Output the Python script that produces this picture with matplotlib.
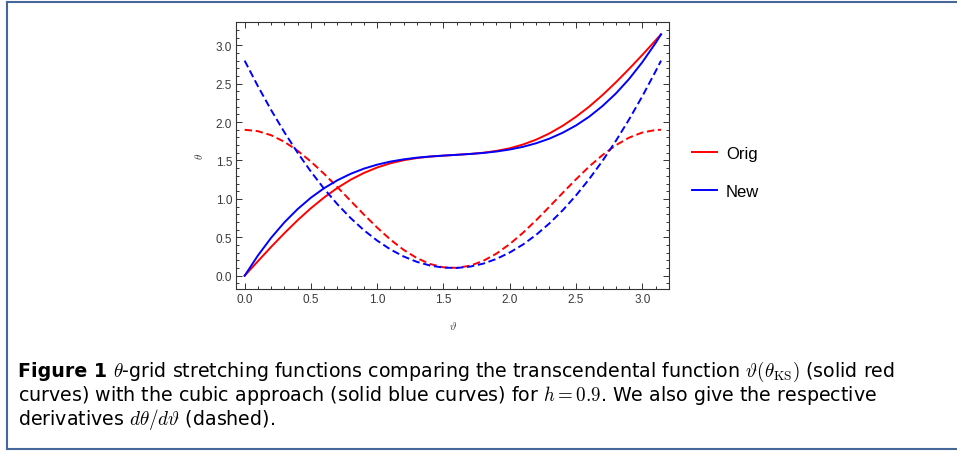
import matplotlib
matplotlib.use('Agg')
import matplotlib.pyplot as plt
from matplotlib.lines import Line2D
from matplotlib.ticker import MultipleLocator, FormatStrFormatter

# theta-grid stretching: original (transcendental) vs cubic map, h = 0.9
vartheta = [0.0, 0.1, 0.2, 0.3, 0.4, 0.5, 0.6, 0.7, 0.8, 0.9, 1.0,
            1.1, 1.2, 1.3, 1.4, 1.5, 1.6, 1.7, 1.8, 1.9, 2.0,
            2.1, 2.2, 2.3, 2.4, 2.5, 2.6, 2.7, 2.8, 2.9, 3.0,
            3.1, 3.1416]

theta_orig = [0.000, 0.189, 0.375, 0.554, 0.723, 0.879, 1.019, 1.143, 1.250, 1.338, 1.409,
              1.464, 1.504, 1.532, 1.551, 1.563, 1.574, 1.585, 1.601, 1.625, 1.659,
              1.708, 1.772, 1.853, 1.952, 2.069, 2.202, 2.352, 2.516, 2.691, 2.874,
              3.063, 3.142]

theta_new = [0.000, 0.263, 0.494, 0.695, 0.868, 1.016, 1.140, 1.243, 1.327, 1.394, 1.446,
             1.486, 1.515, 1.537, 1.552, 1.564, 1.574, 1.585, 1.598, 1.617, 1.643,
             1.678, 1.725, 1.785, 1.862, 1.956, 2.071, 2.209, 2.371, 2.560, 2.779,
             3.028, 3.142]

# derivatives d theta / d vartheta
dtheta_orig = [1.900, 1.882, 1.829, 1.743, 1.627, 1.486, 1.326, 1.153, 0.974, 0.796, 0.626,
               0.470, 0.336, 0.229, 0.152, 0.109, 0.102, 0.130, 0.193, 0.288, 0.412,
               0.559, 0.723, 0.899, 1.079, 1.255, 1.422, 1.571, 1.698, 1.797, 1.864,
               1.897, 1.900]

dtheta_new = [2.800, 2.467, 2.156, 1.867, 1.600, 1.355, 1.131, 0.930, 0.750, 0.592, 0.457,
              0.342, 0.250, 0.180, 0.132, 0.105, 0.101, 0.118, 0.157, 0.219, 0.302,
              0.406, 0.533, 0.682, 0.852, 1.045, 1.259, 1.495, 1.753, 2.033, 2.335,
              2.659, 2.800]

series_labels = ['Orig', 'New']

caption_head = 'Figure 1'
caption_lines = [
    r'$\theta$-grid stretching functions comparing the transcendental function '
    r'$\vartheta(\theta_{\mathrm{KS}})$ (solid red',
    r'curves) with the cubic approach (solid blue curves) for $h = 0.9$. We also give the respective',
    r'derivatives $d\theta/d\vartheta$ (dashed).',
]

plt.rcParams['mathtext.fontset'] = 'cm'

W, H = 957, 452
fig = plt.figure(figsize=(W / 100, H / 100), dpi=100)
fig.patch.set_facecolor('white')


def fx(px):
    return px / W


def fy(py):
    return 1 - py / H


ax = fig.add_axes([fx(236.3), fy(290), fx(669.3) - fx(236.3), fy(22.7) - fy(290)])

lw = 1.4
dash = (0, (3.8, 1.9))
l_orig, = ax.plot(vartheta, theta_orig, color='red', lw=lw)
ax.plot(vartheta, dtheta_orig, color='red', lw=lw, ls=dash)
l_new, = ax.plot(vartheta, theta_new, color='blue', lw=lw)
ax.plot(vartheta, dtheta_new, color='blue', lw=lw, ls=dash)

ax.set_xlim(-0.063, 3.204)
ax.set_ylim(-0.173, 3.307)

for axis in (ax.xaxis, ax.yaxis):
    axis.set_major_locator(MultipleLocator(0.5))
    axis.set_minor_locator(MultipleLocator(0.1))
    axis.set_major_formatter(FormatStrFormatter('%.1f'))

ax.tick_params(which='both', direction='in', top=True, right=True,
               color='#333333', width=0.7)
ax.tick_params(which='major', length=4.5, labelsize=8.5, labelcolor='#3a3a3a', pad=3)
ax.tick_params(which='minor', length=2.5)
for lab in ax.get_xticklabels() + ax.get_yticklabels():
    lab.set_family('Liberation Sans')
for sp in ax.spines.values():
    sp.set_color('#333333')
    sp.set_linewidth(0.8)

ax.set_xlabel(r'$\vartheta$', fontsize=8, labelpad=10, color='#3a3a3a')
ax.set_ylabel(r'$\theta$', fontsize=8, labelpad=8, color='#3a3a3a')

fig.legend(handles=[l_orig, l_new], labels=series_labels, loc='center left',
           bbox_to_anchor=(fx(691.7), fy(173.3)), frameon=False,
           prop={'family': 'Liberation Sans', 'size': 12},
           handlelength=1.5, handletextpad=0.55, labelspacing=1.35,
           borderpad=0, borderaxespad=0)

# caption block; font size fitted so the second line spans its column
cap_font = 'DejaVu Sans'
left = 18.3
baselines = [377, 401, 425]
renderer = fig.canvas.get_renderer()

body = []
for line, y in zip(caption_lines, baselines):
    body.append(fig.text(fx(left), fy(y), line, family=cap_font, size=12,
                         va='baseline', ha='left'))
w2 = body[1].get_window_extent(renderer=renderer).width
cap_size = 12 * (878 - left) / w2
for t in body:
    t.set_size(cap_size)

head = fig.text(fx(left), fy(baselines[0]), caption_head, family=cap_font,
                weight='bold', size=cap_size, va='baseline', ha='left')
head_end = head.get_window_extent(renderer=renderer).x1
body[0].set_x(fx(head_end + 6))

# outer frame (open on the right)
frame_col = '#46679a'
fig.add_artist(Line2D([fx(7), fx(7)], [fy(2.5), fy(449.5)], transform=fig.transFigure,
                      color=frame_col, lw=1.5))
fig.add_artist(Line2D([fx(7), 1], [fy(2.5), fy(2.5)], transform=fig.transFigure,
                      color=frame_col, lw=1.5))
fig.add_artist(Line2D([fx(7), 1], [fy(449.5), fy(449.5)], transform=fig.transFigure,
                      color=frame_col, lw=1.5))

fig.savefig('out.png', dpi=100)
